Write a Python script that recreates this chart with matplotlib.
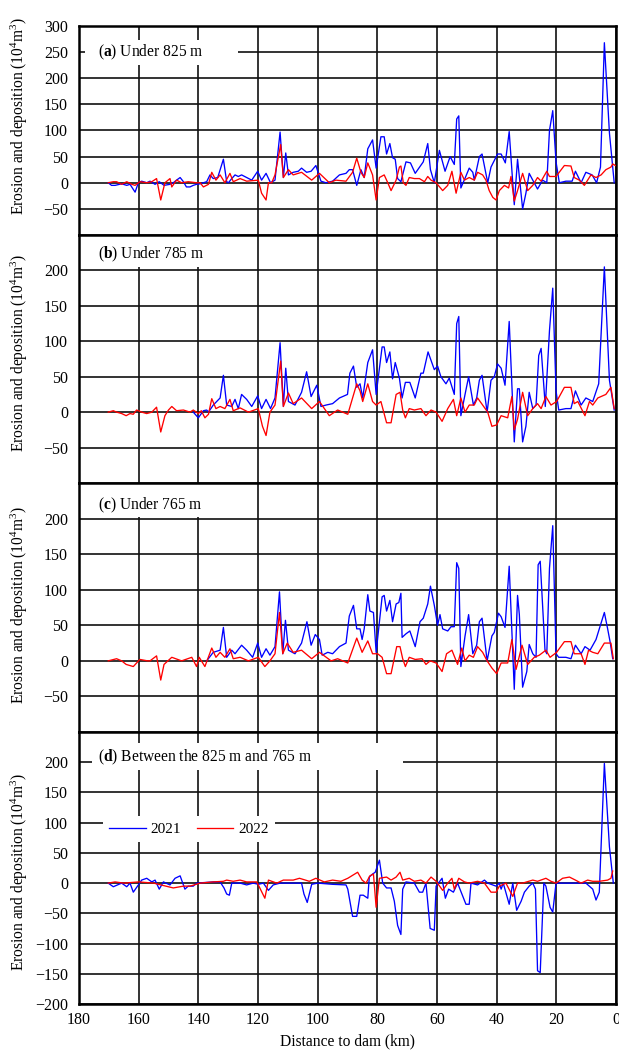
import matplotlib
matplotlib.use("Agg")
import matplotlib.pyplot as plt
from matplotlib.patches import Rectangle

plt.rcParams['font.family'] = ['Liberation Serif', 'DejaVu Serif']
plt.rcParams['mathtext.fontset'] = 'custom'
plt.rcParams['mathtext.rm'] = 'Liberation Serif'
plt.rcParams['mathtext.bf'] = 'Liberation Serif:bold'
plt.rcParams['mathtext.it'] = 'Liberation Serif:italic'

# (a) Under 825 m
a21_km = [170.2, 169.1, 167.9, 165.7, 164.0, 162.9, 161.2, 160.1, 159.0, 157.3, 156.2, 154.5, 153.1, 151.5,
          149.5, 148.4, 147.3, 146.1, 145.0, 144.0, 142.8, 141.7, 140.6, 139.4, 138.3, 137.2, 136.1, 135.0,
          133.5, 131.6, 130.5, 129.9, 128.8, 127.7, 126.6, 125.5, 123.8, 122.1, 120.1, 118.8, 117.3, 115.8,
          114.3, 112.6, 111.5, 110.7, 109.8, 108.2, 106.5, 105.4, 103.7, 102.2, 100.6, 98.9, 97.2, 95.0,
          92.7, 90.5, 89.4, 88.3, 86.9, 85.5, 84.4, 83.2, 81.6, 80.4, 78.8, 77.7, 76.9, 75.8, 74.9, 74.0,
          73.2, 72.1, 70.4, 68.9, 67.3, 64.6, 63.1, 62.2, 60.9, 59.2, 57.3, 55.6, 54.2, 53.4, 52.7, 52.0,
          50.5, 49.2, 48.0, 47.5, 45.8, 44.9, 43.0, 41.9, 39.7, 38.5, 37.1, 35.8, 34.1, 33.0, 31.3, 30.2,
          29.1, 27.9, 26.3, 24.6, 23.2, 22.3, 21.2, 20.1, 19.0, 16.8, 14.7, 13.6, 11.7, 10.1, 8.0, 6.5,
          5.2, 3.9, 2.2, 0.6]
a21 = [0, -5, -5, -2, -5, -3, -18, 0, 3, 0, 3, -3, 2, -5,
       -3, 0, 5, 10, 2, -8, -8, -5, -3, -2, 0, 2, 15, 8,
       10, 45, 2, 0, 8, 15, 12, 15, 10, 5, 22, 5, 18, 0,
       5, 97, 10, 57, 15, 20, 22, 28, 20, 22, 33, 3, 0, 3,
       15, 18, 25, 25, -5, 25, 10, 65, 82, 28, 88, 88, 55, 75, 48, 45,
       8, 2, 40, 38, 18, 40, 75, 25, 0, 62, 22, 50, 35, 122, 128, -10,
       10, 28, 20, 5, 50, 55, 0, 30, 55, 55, 38, 98, -42, 45, -50, -20,
       18, 5, -12, 5, 0, 100, 138, 40, 0, 3, 3, 22, 0, 20, 15, 0,
       30, 268, 95, 0]
a22_km = [170.2, 168.5, 167.4, 165.7, 164.0, 162.3, 161.2, 159.6, 157.3, 155.6, 154.0, 152.6, 151.2, 149.5,
          148.9, 147.3, 145.6, 143.4, 140.6, 139.4, 138.3, 136.6, 135.5, 134.1, 132.7, 131.1, 129.4, 128.3,
          126.0, 123.8, 119.9, 118.8, 117.3, 116.5, 115.4, 114.3, 112.4, 111.5, 109.8, 108.2, 105.4, 102.0,
          99.4, 96.1, 93.9, 90.5, 88.3, 86.9, 85.5, 84.4, 83.2, 81.6, 80.4, 79.3, 77.7, 76.5, 75.4, 73.7,
          72.6, 72.1, 71.3, 70.4, 69.3, 67.6, 65.9, 64.2, 63.1, 62.0, 60.3, 58.1, 56.4, 55.0, 53.6, 52.0,
          50.8, 49.2, 47.5, 46.4, 44.7, 43.6, 42.5, 41.3, 40.2, 39.1, 37.4, 36.0, 35.2, 34.1, 33.0, 31.3,
          29.6, 27.9, 26.3, 25.1, 23.2, 22.3, 20.1, 17.3, 15.1, 14.0, 12.3, 10.6, 9.5, 8.4, 6.7, 5.0,
          3.4, 1.7, 1.1, 0.2]
a22 = [0, 2, 2, -3, 2, -3, -5, 2, 0, 2, 8, -33, 0, 8,
       -8, 5, 0, 2, 0, 0, -8, -3, 20, 5, 15, 0, 18, 2,
       8, 3, 5, -20, -33, 0, 0, 15, 73, 10, 25, 15, 20, 5,
       18, 0, 5, 3, 20, 47, 20, 10, 38, 15, -33, 10, 15, 0, -15, 5,
       30, 32, 0, -5, 10, 8, 8, 2, 12, 5, 0, -15, -5, 22, -20, 20,
       5, 10, 5, 20, 15, 5, -15, -28, -33, -15, -5, -10, 12, -35, -15, 18,
       -15, -5, 10, 3, 22, 12, 12, 33, 32, 10, 5, -5, 5, 15, 10, 15,
       25, 30, 36, 33]

# (b) Under 785 m
b21_km = [141.7, 140.0, 138.3, 137.2, 136.6, 135.0, 132.7, 131.6, 130.5, 128.8, 127.7, 126.6, 125.5, 123.8,
          122.1, 120.1, 118.8, 117.3, 115.8, 114.3, 112.6, 111.5, 110.7, 109.8, 107.6, 105.4, 103.7, 102.2,
          100.3, 98.9, 97.2, 95.0, 92.7, 90.0, 89.2, 88.0, 86.9, 85.8, 84.9, 83.2, 81.6, 80.4, 78.4, 77.7,
          76.9, 75.8, 74.9, 74.0, 72.6, 71.7, 70.6, 69.1, 67.3, 65.4, 64.6, 63.0, 60.9, 59.8, 58.7, 57.0,
          55.9, 54.2, 53.4, 52.7, 52.0, 50.6, 49.4, 47.8, 46.7, 45.8, 44.9, 43.2, 41.9, 40.8, 39.7, 38.5,
          37.2, 35.8, 34.1, 33.0, 32.4, 31.3, 30.2, 29.1, 27.9, 26.8, 25.9, 25.1, 23.7, 22.3, 21.2, 20.1,
          19.2, 16.8, 15.1, 13.6, 11.7, 10.1, 7.8, 5.8, 3.9, 2.2, 0.6]
b21 = [0, -8, 2, 3, 0, 10, 20, 52, 10, 8, 18, 5, 25, 18,
       8, 23, 5, 18, 5, 20, 98, 8, 62, 15, 10, 28, 57, 22,
       38, 8, 10, 12, 20, 25, 55, 65, 35, 40, 20, 70, 88, 25, 92, 92,
       70, 85, 47, 70, 48, 20, 42, 42, 20, 55, 55, 85, 60, 65, 50, 40,
       48, 25, 125, 135, -5, 25, 50, 10, 20, 45, 52, 0, 45, 50, 68, 62,
       38, 128, -42, 33, 33, -42, -20, 28, 5, 10, 80, 90, 8, 115, 175, 30,
       3, 5, 5, 30, 10, 20, 15, 40, 205, 45, 3]
b22_km = [170.2, 168.5, 167.4, 165.7, 164.2, 162.9, 161.8, 160.7, 159.0, 157.3, 155.6, 154.0, 152.6, 151.2,
          150.0, 148.9, 147.3, 145.0, 142.8, 141.7, 140.0, 139.0, 137.8, 136.6, 135.5, 134.1, 132.7, 131.1,
          129.4, 128.3, 126.0, 123.2, 119.9, 118.5, 117.3, 116.0, 114.3, 112.4, 111.5, 109.8, 108.2, 105.4,
          102.0, 99.4, 96.1, 93.3, 89.9, 86.9, 85.8, 84.9, 83.2, 81.6, 80.4, 78.8, 76.9, 75.4, 73.7, 72.4,
          71.5, 70.6, 69.3, 67.6, 65.4, 63.7, 62.0, 60.3, 58.3, 56.4, 54.5, 53.4, 52.0, 50.6, 49.2, 47.5,
          46.4, 44.7, 43.0, 41.6, 40.0, 38.5, 36.3, 34.9, 34.1, 33.0, 31.3, 29.6, 27.9, 26.3, 25.1, 23.5,
          21.8, 19.9, 17.3, 15.1, 14.0, 12.8, 10.4, 8.9, 7.8, 6.1, 3.4, 1.7, 0.6]
b22 = [0, 2, 0, -2, -5, -2, -3, 3, 0, -2, 0, 7, -28, -5,
       3, 8, 2, 3, 0, 3, -2, 2, -8, -3, 19, 5, 8, 5,
       18, 2, 6, 0, 5, -20, -33, 0, 10, 72, 8, 27, 12, 20,
       5, 15, -5, 3, -3, 40, 30, 15, 40, 15, 10, 15, -15, -15, 25, 28,
       3, -8, 5, 3, 5, -5, 3, 0, -13, 5, 18, -5, 20, 0, 10, 10,
       20, 10, 0, -20, -18, -5, -8, 22, -25, -10, 28, -5, 5, 12, 5, 22,
       10, 15, 35, 35, 12, 15, -5, 15, 10, 20, 25, 35, 5]

# (c) Under 765 m
c21_km = [137.2, 135.0, 132.7, 131.6, 130.5, 128.8, 127.7, 125.5, 123.8, 121.8, 120.1, 118.8, 117.3, 116.0,
          114.3, 112.8, 111.7, 110.8, 109.8, 107.6, 105.4, 103.6, 102.2, 100.8, 99.4, 98.5, 96.6, 95.0,
          92.7, 90.5, 89.4, 88.0, 86.9, 85.8, 85.1, 84.4, 83.2, 82.5, 81.3, 80.4, 78.4, 77.7, 76.9, 75.8,
          74.9, 73.7, 72.8, 72.1, 71.7, 70.4, 69.1, 67.3, 65.7, 64.6, 63.1, 62.2, 60.9, 59.8, 59.0, 58.1,
          56.4, 55.3, 54.2, 53.4, 52.7, 52.0, 50.6, 49.4, 48.0, 46.7, 45.8, 44.9, 43.2, 41.6, 40.8, 39.4,
          38.5, 37.2, 35.8, 34.1, 33.0, 32.4, 31.3, 29.9, 29.1, 27.9, 26.8, 26.1, 25.4, 23.8, 23.2, 22.3,
          21.2, 20.1, 19.2, 16.8, 15.1, 13.6, 11.7, 10.4, 8.7, 6.7, 5.6, 3.9, 2.8, 1.9, 1.1]
c21 = [0, 12, 15, 47, 5, 15, 10, 22, 15, 5, 25, 5, 17, 8,
       20, 97, 10, 57, 15, 10, 25, 55, 22, 37, 30, 8, 12, 10,
       20, 25, 63, 78, 45, 45, 30, 45, 93, 70, 68, 12, 90, 92, 70, 85,
       55, 80, 82, 95, 33, 38, 42, 20, 55, 60, 80, 105, 78, 50, 65, 45,
       42, 48, 48, 138, 130, -8, 35, 65, 10, 22, 55, 60, 0, 35, 40, 67,
       62, 47, 133, -40, 92, 65, -37, -15, 23, 10, 5, 135, 140, 15, 10, 130,
       190, 10, 5, 5, 3, 22, 10, 20, 15, 30, 45, 68, 45, 25, 3]
c22_km = [170.2, 167.4, 165.7, 164.2, 161.8, 159.6, 157.0, 156.2, 154.0, 152.6, 151.5, 148.9, 145.6, 142.2,
          140.6, 139.7, 137.8, 135.5, 134.1, 132.7, 131.1, 129.4, 128.3, 126.0, 123.2, 119.9, 117.7, 116.0,
          114.3, 112.8, 111.7, 110.2, 108.2, 105.4, 102.0, 99.4, 95.5, 93.3, 89.9, 86.9, 85.1, 83.2, 81.6,
          79.9, 78.4, 76.9, 75.4, 73.5, 72.4, 71.5, 70.6, 69.3, 67.3, 65.0, 63.7, 62.3, 60.3, 58.3, 56.8,
          55.0, 53.1, 51.7, 50.6, 49.2, 47.8, 46.4, 44.7, 43.2, 41.6, 40.0, 38.5, 36.3, 34.9, 33.5, 31.5,
          29.6, 27.4, 25.7, 23.5, 22.1, 19.9, 17.3, 15.1, 14.0, 11.7, 10.4, 9.2, 7.8, 6.1, 3.9, 1.7, 0.9]
c22 = [0, 3, 0, -5, -8, 2, 0, 0, 7, -27, -5, 5, 0, 5,
       -8, 5, -8, 18, 5, 12, 5, 17, 3, 5, 0, 5, -8, 0,
       10, 68, 10, 25, 12, 15, 3, 12, 0, 3, -3, 32, 12, 28, 10,
       10, 5, -18, -18, 20, 20, 3, -8, 5, 2, 3, -5, 0, -3, -15, 10,
       15, -5, 18, 0, 8, 5, 20, 12, 0, -10, -18, -3, -3, 30, -12, 22,
       -5, 5, 8, 15, 5, 12, 27, 27, 10, 10, -5, 15, 12, 10, 25, 25, 3]

# (d) Between the 825 m and 765 m
d21_km = [170.2, 168.5, 165.7, 164.0, 162.9, 161.8, 160.1, 159.0, 157.3, 155.6, 154.5, 153.1, 151.7, 149.5,
          147.8, 146.1, 144.5, 143.4, 141.7, 140.6, 135.0, 132.7, 131.4, 130.5, 129.6, 128.8, 126.0, 123.8,
          121.6, 119.9, 118.2, 116.5, 114.9, 112.6, 105.4, 104.6, 103.5, 102.0, 100.0, 95.0, 90.5, 89.9,
          88.3, 86.9, 85.8, 84.7, 83.2, 82.7, 81.6, 80.7, 79.3, 78.2, 76.9, 75.4, 74.3, 73.2, 72.1, 71.5,
          70.4, 67.6, 65.9, 64.8, 63.7, 62.3, 60.9, 60.3, 58.3, 57.2, 56.1, 54.5, 53.1, 50.3, 49.2, 48.6,
          46.4, 44.1, 43.0, 40.2, 39.1, 38.5, 37.8, 35.8, 34.6, 33.3, 31.8, 30.7, 29.1, 27.9, 27.0, 26.3,
          25.4, 24.2, 23.5, 22.1, 21.2, 20.1, 17.0, 12.0, 10.1, 7.8, 6.7, 5.6, 3.9, 2.2, 0.9]
d21 = [0, -6, 0, -6, 0, -15, -3, 5, 8, 2, 5, -10, 2, -3,
       8, 12, -10, -5, -5, 0, 2, 2, -8, -18, -20, 0, 0, -3,
       0, -2, 0, -12, -3, 0, 0, -18, -32, -2, 0, -2, -3, -10,
       -55, -55, -20, -20, -25, 10, 15, 18, 38, 0, -8, -8, -30, -70, -85, -10,
       2, 0, -15, -15, 0, -75, -78, -5, 8, -25, -10, -15, 0, -35, -35, 0,
       -3, 5, 0, -5, 0, -10, 0, -35, 0, -45, -30, -15, -5, 0, -10, -145,
       -148, 0, -5, -40, -48, 0, 0, 0, 0, -10, -28, -15, 198, 60, 0]
d22_km = [170.2, 167.9, 165.0, 160.0, 155.0, 148.4, 145.0, 142.8, 139.4, 135.0, 131.6, 130.5, 128.3, 126.0,
          123.8, 120.4, 119.0, 117.7, 116.5, 113.7, 111.5, 108.2, 106.1, 102.8, 100.6, 97.8, 95.0, 92.2,
          89.9, 86.6, 85.1, 83.8, 82.5, 81.3, 80.4, 79.3, 76.9, 75.4, 73.7, 72.4, 71.5, 69.3, 67.6, 65.4,
          63.7, 62.0, 60.3, 58.1, 56.4, 55.0, 54.2, 52.7, 50.8, 49.2, 46.4, 44.1, 41.9, 40.2, 39.1, 36.9,
          34.6, 33.0, 31.3, 27.9, 26.3, 23.5, 21.8, 20.1, 17.9, 15.6, 13.6, 11.7, 9.5, 7.8, 5.6, 2.8,
          1.7, 1.1]
d22 = [0, 2, 0, 2, 0, -8, -5, -5, 0, 2, 3, 5, 3, 5,
       2, 2, -12, -25, 5, 0, 5, 5, 8, 3, 8, 2, 5, 3,
       8, 18, 5, 0, 12, 15, -40, 8, 10, 5, 10, 18, 5, 8, 3, 5,
       0, 10, 3, -12, 0, 8, -10, 8, 2, 0, 3, 0, -15, -15, -5, 0,
       -22, 0, 0, 5, 3, 8, 3, 0, 8, 10, 5, 0, 5, 3, 3, 5,
       8, 20]

panel_titles = [r"($\mathbf{a}$) Under 825 m", r"($\mathbf{b}$) Under 785 m",
                r"($\mathbf{c}$) Under 765 m", r"($\mathbf{d}$) Between the 825 m and 765 m"]
series_2021 = [(a21_km, a21), (b21_km, b21), (c21_km, c21), (d21_km, d21)]
series_2022 = [(a22_km, a22), (b22_km, b22), (c22_km, c22), (d22_km, d22)]
ylims = [(-100, 300), (-100, 250), (-100, 250), (-200, 250)]
yticks = [list(range(-50, 301, 50)), list(range(-50, 201, 50)),
          list(range(-50, 201, 50)), list(range(-200, 201, 50))]
xticks = list(range(180, -1, -20))

# axes boxes in figure fraction [left, bottom, width, height]
W, H = 619, 1054
left, right = 79 / W, 616 / W
tops = [26, 235, 483, 732]
bottoms = [235, 483, 732, 1004]
# white boxes behind the panel titles (axes fraction: x0, y0, w, h)
title_boxes = [(0.011, 0.813, 0.285, 0.12), (0.0, 0.871, 0.30, 0.129),
               (0.0, 0.863, 0.30, 0.137), (0.024, 0.86, 0.58, 0.10)]
title_y = [0.876, 0.923, 0.912, 0.908]
ylabel_y = [0.569, 0.524, 0.51, 0.485]

fig = plt.figure(figsize=(W / 100, H / 100), dpi=100)

for i in range(4):
    ax = fig.add_axes([left, 1 - bottoms[i] / H, right - left, (bottoms[i] - tops[i]) / H])
    ax.set_xlim(180, 0)
    ax.set_ylim(*ylims[i])
    ax.set_xticks(xticks)
    ax.set_yticks(yticks[i])
    ax.grid(True, color='#111111', linewidth=1.2)
    ax.set_axisbelow(True)
    ax.tick_params(length=0, labelsize=11.5, pad=8)
    for s in ax.spines.values():
        s.set_linewidth(1.8)
    if i < 3:
        ax.tick_params(labelbottom=False)

    k21, v21 = series_2021[i]
    k22, v22 = series_2022[i]
    ax.plot(k21, v21, color='#0000ff', linewidth=0.95, label='2021', zorder=3)
    ax.plot(k22, v22, color='#ff0000', linewidth=0.95, label='2022', zorder=4)

    bx = title_boxes[i]
    ax.add_patch(Rectangle((bx[0], bx[1]), bx[2], bx[3], transform=ax.transAxes,
                           facecolor='white', edgecolor='none', zorder=1.5))
    ax.text(0.036, title_y[i], panel_titles[i], transform=ax.transAxes,
            fontsize=11.2, va='center', ha='left', zorder=5)

    ax.set_ylabel(r"Erosion and deposition (10$^4$m$^3$)", fontsize=11.2)
    ax.yaxis.set_label_coords(-0.092, ylabel_y[i])

    if i == 3:
        ax.set_xlabel("Distance to dam (km)", fontsize=11.2, labelpad=4)
        ax.tick_params(axis='x', pad=6)
        leg = ax.legend(loc='center left', bbox_to_anchor=(0.03, 0.643), ncol=2, fontsize=11,
                        frameon=True, fancybox=False, framealpha=1, edgecolor='none',
                        handlelength=2.4, handletextpad=0.35, columnspacing=1.0,
                        borderpad=0.4)
        leg.set_zorder(6)

plt.savefig("out.png", dpi=100)
